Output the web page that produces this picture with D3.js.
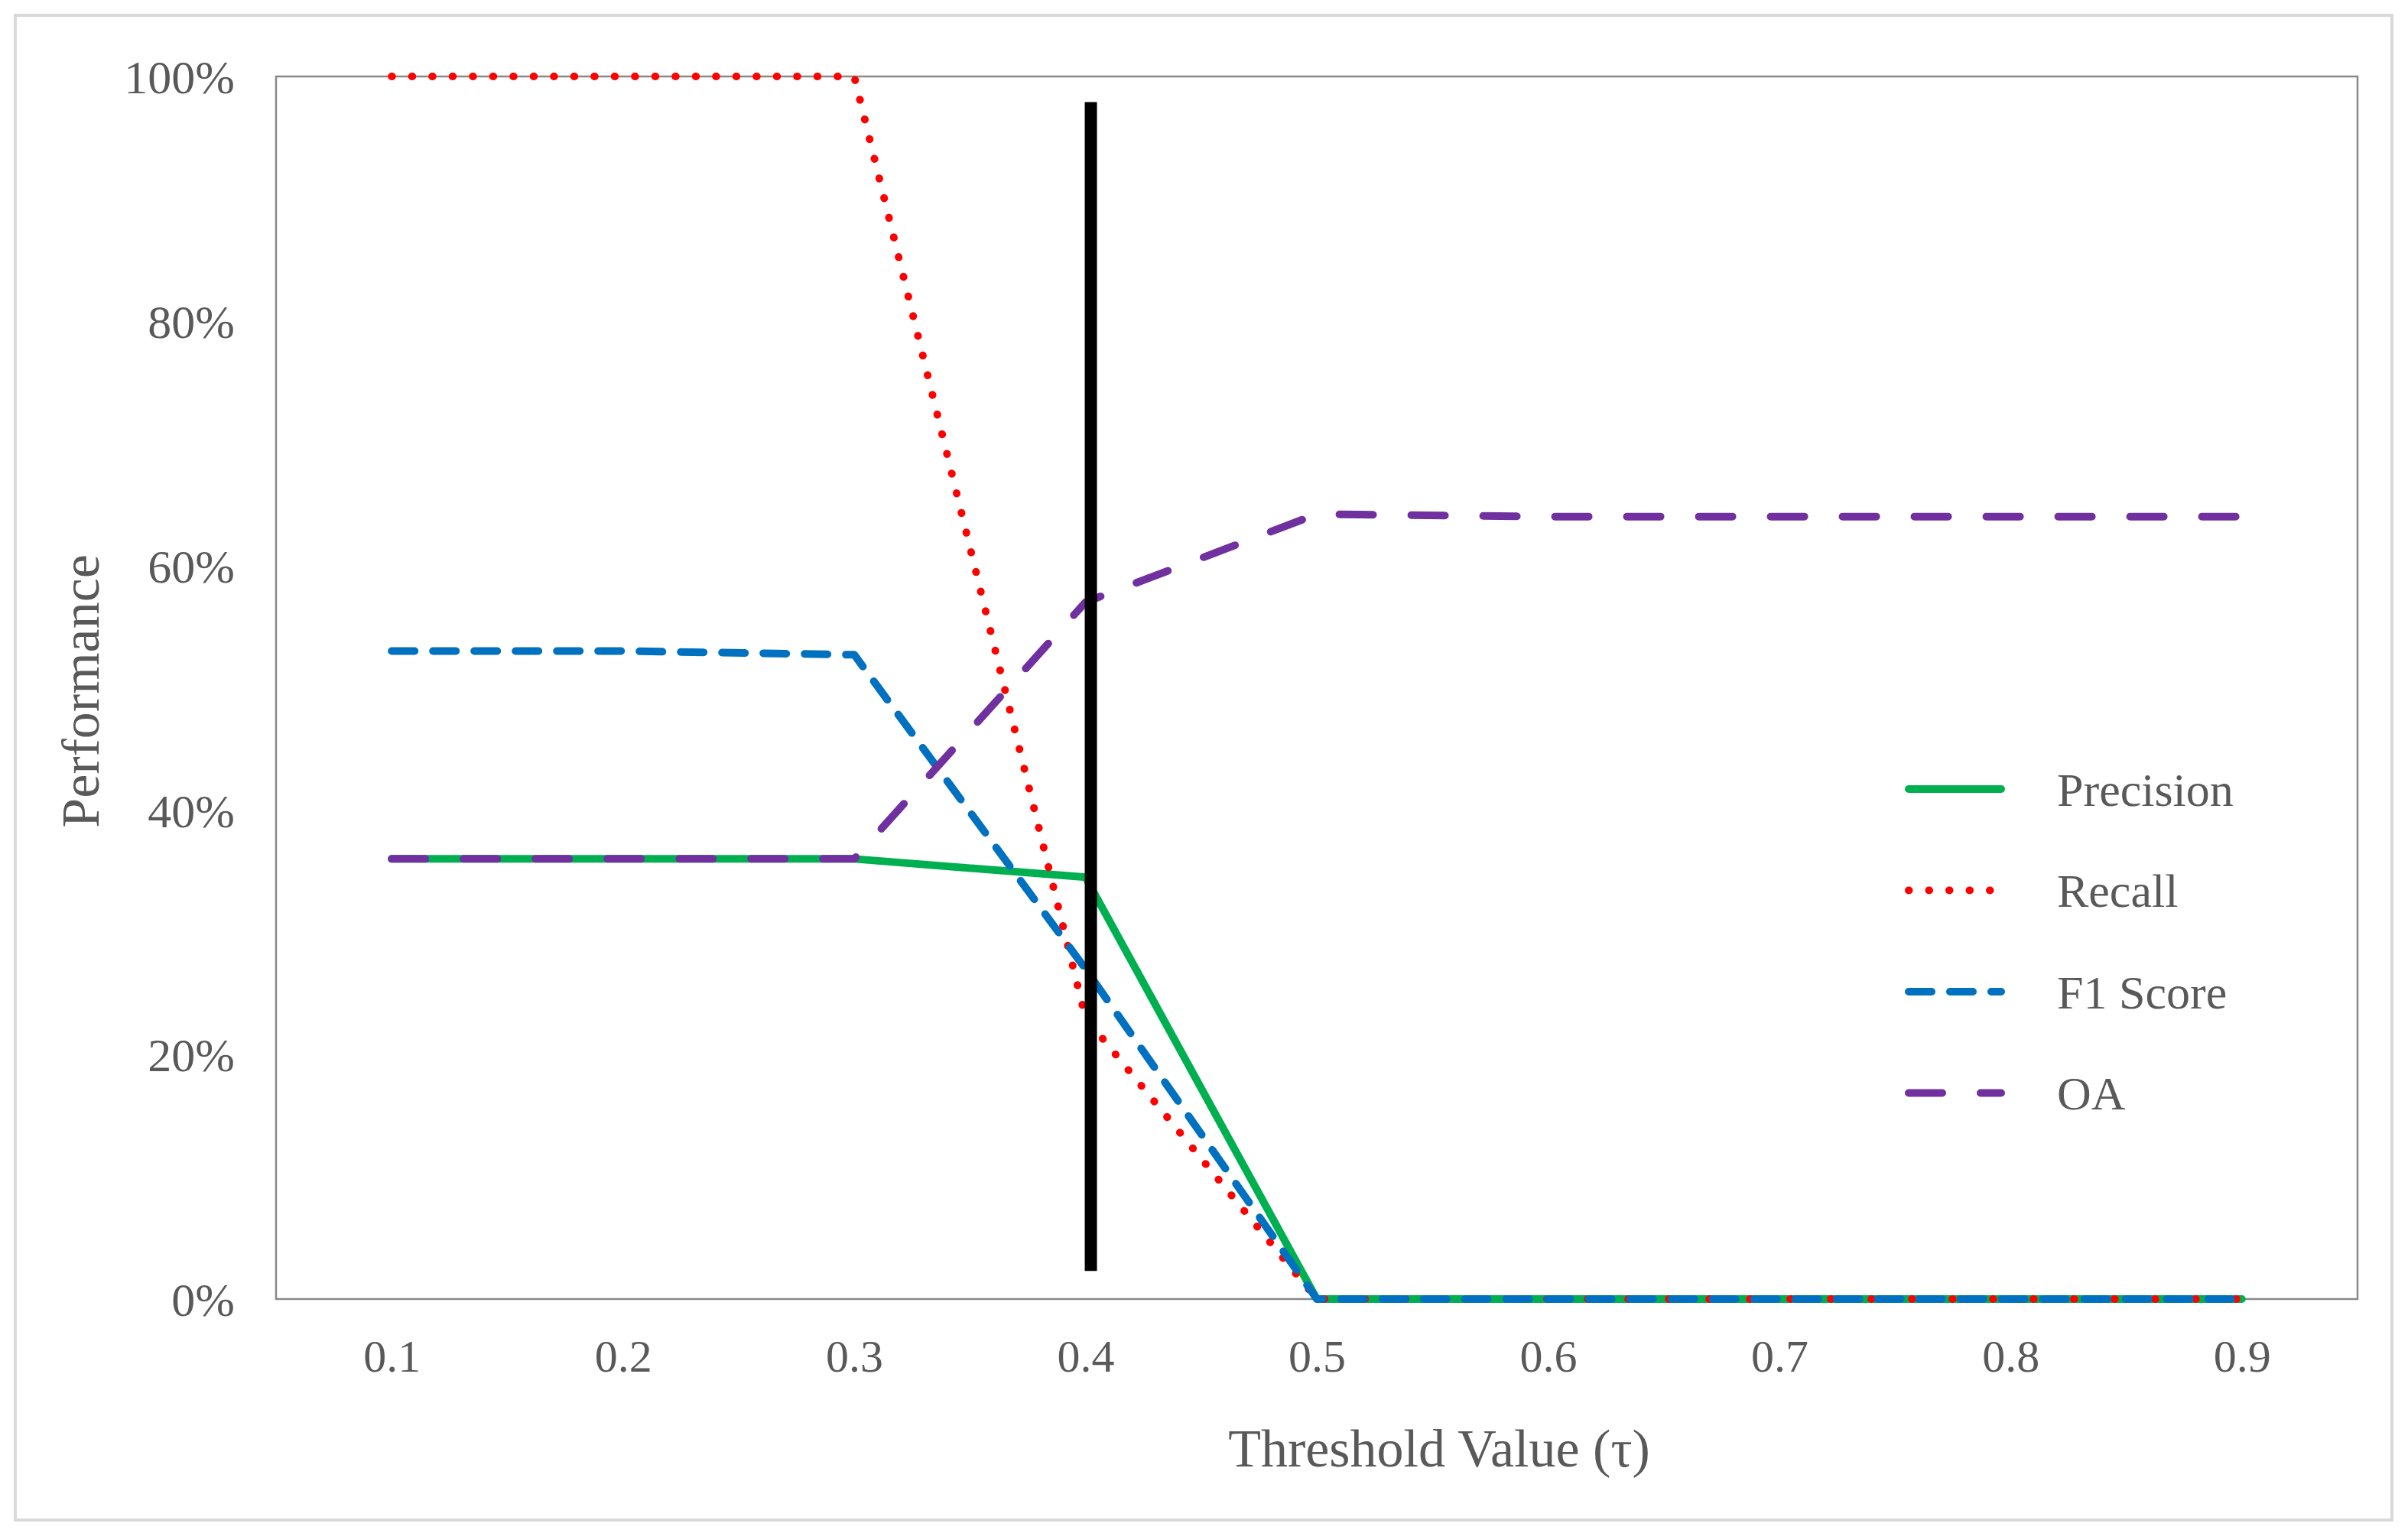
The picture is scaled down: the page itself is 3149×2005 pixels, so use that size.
<!DOCTYPE html>
<html>
<head>
<meta charset="utf-8">
<script src="https://cdn.jsdelivr.net/npm/d3@7"></script>
<style>
  body { margin: 0; background: #fff; }
  text { font-family: "Liberation Serif", "Times New Roman", serif; fill: #595959; }
</style>
</head>
<body>
<svg id="chart" width="3149" height="2005"></svg>
<script>
const thresholds = ['0.1', '0.2', '0.3', '0.4', '0.5', '0.6', '0.7', '0.8', '0.9']
const precision = [36, 36, 36, 34.5, 0, 0, 0, 0, 0]
const recall = [100, 100, 100, 23, 0, 0, 0, 0, 0]
const f1Score = [53, 53, 52.7, 27, 0, 0, 0, 0, 0]
const oa = [36, 36, 36, 57, 64.2, 64, 64, 64, 64]
const yTicks = [0, 20, 40, 60, 80, 100]
const markerX = '0.4'
const markerRange = [2.3, 97.9]

const series = [
  { name: 'Precision', values: precision, color: '#00b050', dash: null },
  { name: 'Recall', values: recall, color: '#ff0000', dash: '0.5,26' },
  { name: 'F1 Score', values: f1Score, color: '#0070c0', dash: '30,24' },
  { name: 'OA', values: oa, color: '#7030a0', dash: '44,50' }
]

const LEFT = 361, RIGHT = 3083, TOP = 100, BOTTOM = 1699
const svg = d3.select('#chart')

// outer frame
svg.append('rect').attr('x', 20).attr('y', 20).attr('width', 3108).attr('height', 1968)
  .attr('fill', 'none').attr('stroke', '#d9d9d9').attr('stroke-width', 4)

const x = d3.scalePoint().domain(thresholds).range([LEFT, RIGHT]).padding(0.5)
const y = d3.scaleLinear().domain([0, 100]).range([BOTTOM, TOP])

svg.append('rect').attr('x', LEFT).attr('y', TOP).attr('width', RIGHT - LEFT).attr('height', BOTTOM - TOP)
  .attr('fill', 'none').attr('stroke', '#898989').attr('stroke-width', 2.5)

const yAxis = svg.append('g').attr('transform', `translate(${LEFT},0)`)
  .call(d3.axisLeft(y).tickValues(yTicks).tickFormat(d => d + '%').tickSize(0).tickPadding(54))
yAxis.select('.domain').remove()
yAxis.selectAll('text').attr('font-size', 62).attr('dy', '0.35em')

const xAxis = svg.append('g').attr('transform', `translate(0,${BOTTOM})`)
  .call(d3.axisBottom(x).tickSize(0).tickPadding(52))
xAxis.select('.domain').remove()
xAxis.selectAll('text').attr('font-size', 60)

svg.append('text').attr('x', 1882).attr('y', 1893).attr('text-anchor', 'middle')
  .attr('dy', '0.35em').attr('font-size', 70).text('Threshold Value (τ)')
svg.append('text').attr('transform', 'translate(104,904) rotate(-90)').attr('text-anchor', 'middle')
  .attr('dy', '0.35em').attr('font-size', 70).text('Performance')

const line = d3.line().x((d, i) => x(thresholds[i])).y(d => y(d))

svg.append('g').selectAll('path').data(series).join('path')
  .attr('d', d => line(d.values))
  .attr('fill', 'none')
  .attr('stroke', d => d.color)
  .attr('stroke-width', 10)
  .attr('stroke-linecap', 'round')
  .attr('stroke-linejoin', 'round')
  .attr('stroke-dasharray', d => d.dash)

svg.append('line').attr('x1', x(markerX) + 7).attr('x2', x(markerX) + 7)
  .attr('y1', y(markerRange[0])).attr('y2', y(markerRange[1]))
  .attr('stroke', '#000').attr('stroke-width', 16)

const legend = svg.append('g').selectAll('g').data(series).join('g')
  .attr('transform', (d, i) => `translate(2496,${1032 + i * 132.5})`)
legend.append('line').attr('x1', 0).attr('x2', d => d.name === 'Recall' ? 112 : 121)
  .attr('stroke', d => d.color).attr('stroke-width', 10).attr('stroke-linecap', 'round')
  .attr('stroke-dasharray', d => d.dash)
legend.append('text').attr('x', 194).attr('dy', '0.35em').attr('font-size', 62).text(d => d.name)
</script>
</body>
</html>
